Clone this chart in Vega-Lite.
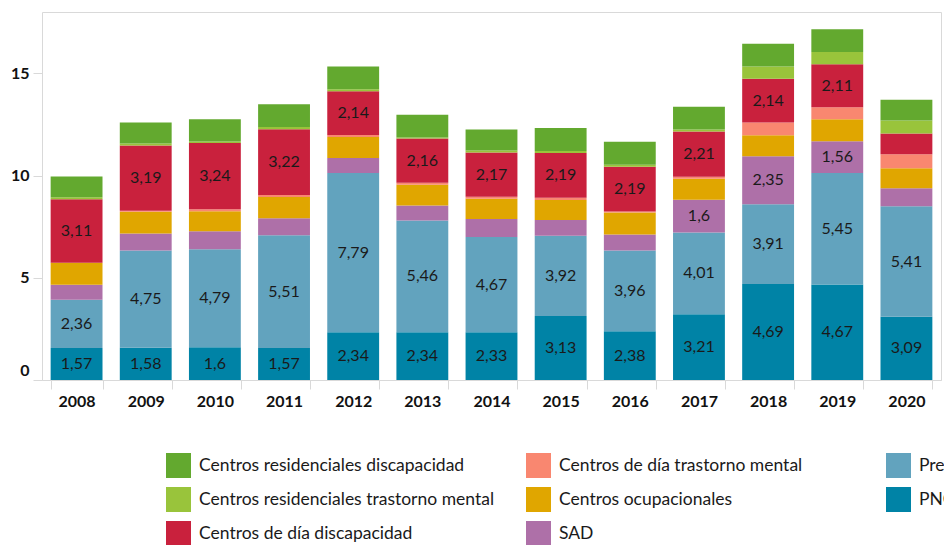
{
  "$schema": "https://vega.github.io/schema/vega-lite/v6.json",
  "autosize": "none",
  "width": 899,
  "height": 368,
  "padding": {"left": 42, "top": 12, "right": 3, "bottom": 165},
  "config": {
    "locale": {"number": {"decimal": ",", "thousands": ".", "grouping": [3], "currency": ["", " €"]}},
    "view": {"stroke": "#d9d9d9", "strokeWidth": 1},
    "font": "Lato"
  },
  "data": {"values": [
    {"year":"2008","c":"PNC","v":1.57},{"year":"2008","c":"Prestaciones económicas","v":2.36},{"year":"2008","c":"SAD","v":0.73},{"year":"2008","c":"Centros ocupacionales","v":1.07},{"year":"2008","c":"Centros de día trastorno mental","v":0},{"year":"2008","c":"Centros de día discapacidad","v":3.11},{"year":"2008","c":"Centros residenciales trastorno mental","v":0.1},{"year":"2008","c":"Centros residenciales discapacidad","v":1.01},
    {"year":"2009","c":"PNC","v":1.58},{"year":"2009","c":"Prestaciones económicas","v":4.75},{"year":"2009","c":"SAD","v":0.83},{"year":"2009","c":"Centros ocupacionales","v":1.07},{"year":"2009","c":"Centros de día trastorno mental","v":0.05},{"year":"2009","c":"Centros de día discapacidad","v":3.19},{"year":"2009","c":"Centros residenciales trastorno mental","v":0.1},{"year":"2009","c":"Centros residenciales discapacidad","v":1.02},
    {"year":"2010","c":"PNC","v":1.6},{"year":"2010","c":"Prestaciones económicas","v":4.79},{"year":"2010","c":"SAD","v":0.88},{"year":"2010","c":"Centros ocupacionales","v":0.98},{"year":"2010","c":"Centros de día trastorno mental","v":0.1},{"year":"2010","c":"Centros de día discapacidad","v":3.24},{"year":"2010","c":"Centros residenciales trastorno mental","v":0.07},{"year":"2010","c":"Centros residenciales discapacidad","v":1.1},
    {"year":"2011","c":"PNC","v":1.57},{"year":"2011","c":"Prestaciones económicas","v":5.51},{"year":"2011","c":"SAD","v":0.83},{"year":"2011","c":"Centros ocupacionales","v":1.04},{"year":"2011","c":"Centros de día trastorno mental","v":0.1},{"year":"2011","c":"Centros de día discapacidad","v":3.22},{"year":"2011","c":"Centros residenciales trastorno mental","v":0.1},{"year":"2011","c":"Centros residenciales discapacidad","v":1.12},
    {"year":"2012","c":"PNC","v":2.34},{"year":"2012","c":"Prestaciones económicas","v":7.79},{"year":"2012","c":"SAD","v":0.73},{"year":"2012","c":"Centros ocupacionales","v":1.02},{"year":"2012","c":"Centros de día trastorno mental","v":0.1},{"year":"2012","c":"Centros de día discapacidad","v":2.14},{"year":"2012","c":"Centros residenciales trastorno mental","v":0.1},{"year":"2012","c":"Centros residenciales discapacidad","v":1.12},
    {"year":"2013","c":"PNC","v":2.34},{"year":"2013","c":"Prestaciones económicas","v":5.46},{"year":"2013","c":"SAD","v":0.73},{"year":"2013","c":"Centros ocupacionales","v":1.02},{"year":"2013","c":"Centros de día trastorno mental","v":0.1},{"year":"2013","c":"Centros de día discapacidad","v":2.16},{"year":"2013","c":"Centros residenciales trastorno mental","v":0.05},{"year":"2013","c":"Centros residenciales discapacidad","v":1.12},
    {"year":"2014","c":"PNC","v":2.33},{"year":"2014","c":"Prestaciones económicas","v":4.67},{"year":"2014","c":"SAD","v":0.88},{"year":"2014","c":"Centros ocupacionales","v":0.98},{"year":"2014","c":"Centros de día trastorno mental","v":0.1},{"year":"2014","c":"Centros de día discapacidad","v":2.17},{"year":"2014","c":"Centros residenciales trastorno mental","v":0.1},{"year":"2014","c":"Centros residenciales discapacidad","v":1.02},
    {"year":"2015","c":"PNC","v":3.13},{"year":"2015","c":"Prestaciones económicas","v":3.92},{"year":"2015","c":"SAD","v":0.78},{"year":"2015","c":"Centros ocupacionales","v":0.98},{"year":"2015","c":"Centros de día trastorno mental","v":0.1},{"year":"2015","c":"Centros de día discapacidad","v":2.19},{"year":"2015","c":"Centros residenciales trastorno mental","v":0.1},{"year":"2015","c":"Centros residenciales discapacidad","v":1.12},
    {"year":"2016","c":"PNC","v":2.38},{"year":"2016","c":"Prestaciones económicas","v":3.96},{"year":"2016","c":"SAD","v":0.78},{"year":"2016","c":"Centros ocupacionales","v":1.07},{"year":"2016","c":"Centros de día trastorno mental","v":0.05},{"year":"2016","c":"Centros de día discapacidad","v":2.19},{"year":"2016","c":"Centros residenciales trastorno mental","v":0.1},{"year":"2016","c":"Centros residenciales discapacidad","v":1.12},
    {"year":"2017","c":"PNC","v":3.21},{"year":"2017","c":"Prestaciones económicas","v":4.01},{"year":"2017","c":"SAD","v":1.6},{"year":"2017","c":"Centros ocupacionales","v":1.02},{"year":"2017","c":"Centros de día trastorno mental","v":0.1},{"year":"2017","c":"Centros de día discapacidad","v":2.21},{"year":"2017","c":"Centros residenciales trastorno mental","v":0.1},{"year":"2017","c":"Centros residenciales discapacidad","v":1.12},
    {"year":"2018","c":"PNC","v":4.69},{"year":"2018","c":"Prestaciones económicas","v":3.91},{"year":"2018","c":"SAD","v":2.35},{"year":"2018","c":"Centros ocupacionales","v":1.02},{"year":"2018","c":"Centros de día trastorno mental","v":0.63},{"year":"2018","c":"Centros de día discapacidad","v":2.14},{"year":"2018","c":"Centros residenciales trastorno mental","v":0.59},{"year":"2018","c":"Centros residenciales discapacidad","v":1.12},
    {"year":"2019","c":"PNC","v":4.67},{"year":"2019","c":"Prestaciones económicas","v":5.45},{"year":"2019","c":"SAD","v":1.56},{"year":"2019","c":"Centros ocupacionales","v":1.07},{"year":"2019","c":"Centros de día trastorno mental","v":0.59},{"year":"2019","c":"Centros de día discapacidad","v":2.11},{"year":"2019","c":"Centros residenciales trastorno mental","v":0.59},{"year":"2019","c":"Centros residenciales discapacidad","v":1.12},
    {"year":"2020","c":"PNC","v":3.09},{"year":"2020","c":"Prestaciones económicas","v":5.41},{"year":"2020","c":"SAD","v":0.88},{"year":"2020","c":"Centros ocupacionales","v":0.98},{"year":"2020","c":"Centros de día trastorno mental","v":0.68},{"year":"2020","c":"Centros de día discapacidad","v":1.02},{"year":"2020","c":"Centros residenciales trastorno mental","v":0.63},{"year":"2020","c":"Centros residenciales discapacidad","v":1.02}
  ]},
  "transform": [
    {"calculate": "indexof(['PNC','Prestaciones económicas','SAD','Centros ocupacionales','Centros de día trastorno mental','Centros de día discapacidad','Centros residenciales trastorno mental','Centros residenciales discapacidad'], datum.c)", "as": "ord"},
    {"stack": "v", "groupby": ["year"], "sort": [{"field": "ord", "order": "ascending"}], "as": ["v0", "v1"]},
    {"calculate": "(datum.v0 + datum.v1) / 2", "as": "mid"}
  ],
  "encoding": {
    "x": {
      "field": "year", "type": "nominal", "title": null,
      "scale": {"paddingInner": 0.25, "paddingOuter": 0.125},
      "axis": {
        "labelAngle": 0, "labelFont": "Lato", "labelFontSize": 16, "labelFontWeight": "bold", "labelColor": "#111111",
        "labelPadding": 4, "domainColor": "#d9d9d9", "tickColor": "#d9d9d9", "tickBand": "extent", "tickSize": 9
      }
    }
  },
  "layer": [
    {
      "mark": {"type": "bar", "strokeWidth": 0},
      "encoding": {
        "y": {
          "field": "v0", "type": "quantitative", "title": null,
          "scale": {"domain": [0, 18], "nice": false},
          "axis": {
            "values": [0, 5, 10, 15], "grid": false, "domain": false,
            "tickColor": "#d9d9d9", "tickSize": 9, "labelPadding": 4,
            "labelFont": "Lato", "labelFontSize": 16, "labelFontWeight": "bold", "labelColor": "#111111",
            "labelOffset": {"condition": {"test": "datum.value === 0", "value": -10}, "value": 0}
          }
        },
        "y2": {"field": "v1"},
        "color": {
          "field": "c", "type": "nominal",
          "scale": {
            "domain": ["Centros residenciales discapacidad", "Centros residenciales trastorno mental", "Centros de día discapacidad", "Centros de día trastorno mental", "Centros ocupacionales", "SAD", "Prestaciones económicas", "PNC"],
            "range": ["#63A92F", "#99C43B", "#C9213D", "#F98770", "#E0A600", "#AE70A8", "#62A3BE", "#0083A6"]
          },
          "legend": {
            "title": null, "orient": "none", "legendX": 124, "legendY": 441,
            "columns": 3, "gridAlign": "all", "columnPadding": 31, "rowPadding": 9,
            "symbolType": "square", "symbolSize": 625, "symbolStrokeWidth": 0, "symbolOpacity": 1,
            "labelFont": "Lato", "labelFontSize": 17.5, "labelColor": "#1a1a1a", "labelOffset": 8, "labelLimit": 400
          }
        }
      }
    },
    {
      "transform": [{"filter": "datum.v >= 1.5"}],
      "mark": {"type": "text", "font": "Lato", "fontSize": 16, "color": "#1a1a1a"},
      "encoding": {
        "y": {"field": "mid", "type": "quantitative"},
        "text": {"field": "v", "type": "quantitative", "format": ".2~f"}
      }
    }
  ]
}
